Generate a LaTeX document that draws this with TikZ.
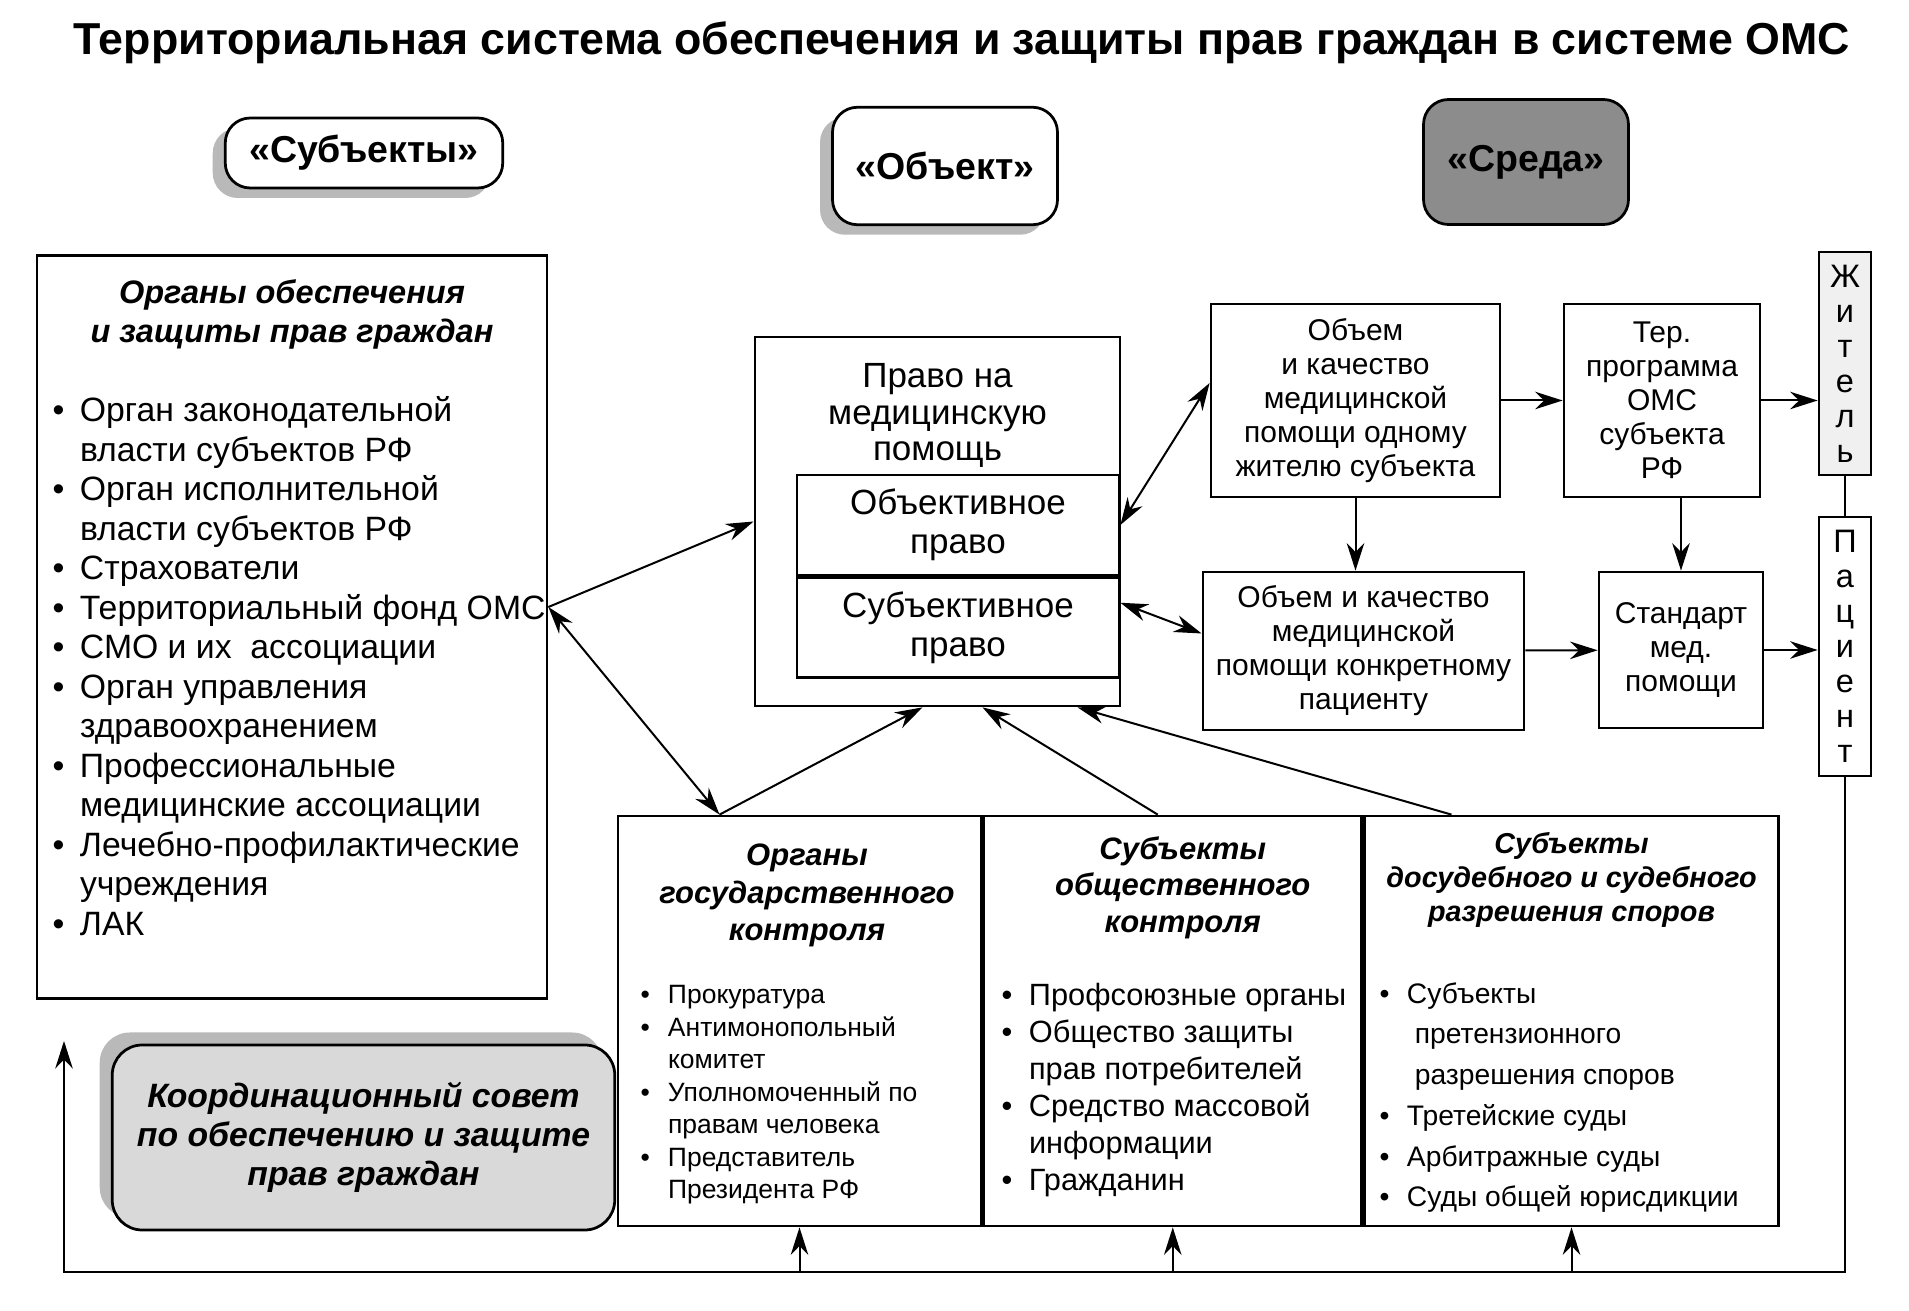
\documentclass[tikz,border=0pt]{standalone}
\usepackage{fontspec}
\setmainfont{Liberation Sans}
\usetikzlibrary{arrows.meta,positioning,shadows}

\newcommand{\itm}{\makebox[11pt][l]{\textbullet}}
\newcommand{\ind}{\hspace*{11pt}}
\newcommand{\fsz}[2]{\fontsize{#1}{#2}\selectfont}

\begin{document}
\begin{tikzpicture}[
  x=0.4pt, y=-0.4pt,
  box/.style={rectangle, draw, line width=1.1pt, inner sep=0pt, align=center},
  tag/.style={box, rounded corners=10pt, fill=white, font=\bfseries\fsz{15}{18}},
  rbox/.style={box, font=\fsz{12}{13.6}},
  vbox/.style={box, font=\fsz{13}{14}, minimum width=20.8pt},
  head/.style={inner sep=0pt, align=center, font=\bfseries\itshape\fsz{13}{15.6}},
  bullets/.style={inner sep=0pt, align=left, anchor=north west},
  shade/.style={drop shadow={shadow xshift=-5pt, shadow yshift=-4pt, fill=gray!55, opacity=1}},
  arr/.style={-{Stealth[length=11pt,width=7pt]}, line width=0.8pt},
  darr/.style={{Stealth[length=11pt,width=7pt]}-{Stealth[length=11pt,width=7pt]}, line width=0.8pt}
]
\useasboundingbox (0,0) rectangle (1909,1311);

% title
\node[font=\bfseries\fsz{17.9}{20}] (title) at (962,43) {Территориальная система обеспечения и защиты прав граждан в системе ОМС};

% tags
\node[tag, shade, minimum width=111pt, minimum height=28pt] (subj) at (364,153) {«Субъекты»};
\node[tag, shade, minimum width=90pt, minimum height=47pt] (obj) at (945,166) {«Объект»};
\node[tag, fill=black!45, minimum width=82pt, minimum height=50pt] (sreda) at (1526,162) {«Среда»};

% subjects of protection
\node[box, minimum width=204pt, minimum height=297pt] (organy) at (292,627) {};
\node[head, below=10pt of organy.north] (organyhead) {Органы обеспечения\\и защиты прав граждан};
\node[bullets, font=\fsz{13.5}{15.8}] (organylist) at (52,396) {%
\itm Орган законодательной\\ \ind власти субъектов РФ\\
\itm Орган исполнительной\\ \ind власти субъектов РФ\\
\itm Страхователи\\
\itm Территориальный фонд ОМС\\
\itm СМО и их\ \ ассоциации\\
\itm Орган управления\\ \ind здравоохранением\\
\itm Профессиональные\\ \ind медицинские ассоциации\\
\itm Лечебно-профилактические\\ \ind учреждения\\
\itm ЛАК};

% object
\node[box, minimum width=146pt, minimum height=147.6pt] (pravo) at (937.5,521.5) {};
\node[inner sep=0pt, align=center, font=\fsz{14}{14.6}, below=11pt of pravo.north] (pravohead) {Право на\\медицинскую\\помощь};
\node[box, font=\fsz{14}{15.6}, minimum width=128.8pt, minimum height=40pt] (objright) at (958,525) {Объективное\\право};
\node[box, font=\fsz{14}{15.6}, minimum width=128.8pt, minimum height=40pt, below=0pt of objright] (subjright) {Субъективное\\право};

% environment
\node[rbox, minimum width=115.6pt, minimum height=77.2pt] (perone) at (1355.5,400.5) {Объем\\и качество\\медицинской\\помощи одному\\жителю субъекта};
\node[rbox, minimum width=78.4pt, minimum height=77.2pt] (terprog) at (1662,400.5) {Тер.\\программа\\ОМС\\субъекта\\РФ};
\node[rbox, minimum width=128.4pt, minimum height=63.2pt] (perpatient) at (1363.5,651) {Объем и качество\\медицинской\\помощи конкретному\\пациенту};
\node[rbox, minimum width=65.6pt, minimum height=62.4pt] (standard) at (1681,650) {Стандарт\\мед.\\помощи};
\node[vbox, fill=gray!12, minimum height=89.2pt] (zhitel) at (1845,363.5) {Ж\\и\\т\\е\\л\\ь};
\node[vbox, minimum height=103.6pt] (patient) at (1845,646.5) {П\\а\\ц\\и\\е\\н\\т};

% control
\node[box, minimum width=145.2pt, minimum height=164pt] (gov) at (799.5,1021) {};
\node[box, minimum width=151.2pt, minimum height=164pt, right=0pt of gov] (pub) {};
\node[box, minimum width=165.6pt, minimum height=164pt, right=0pt of pub] (court) {};
\node[head, font=\bfseries\itshape\fsz{12.4}{15}, below=11.5pt of gov.north, xshift=3pt] (govhead) {Органы\\государственного\\контроля};
\node[head, font=\bfseries\itshape\fsz{12.4}{14.6}, below=8.5pt of pub.north, xshift=4pt] (pubhead) {Субъекты\\общественного\\контроля};
\node[head, font=\bfseries\itshape\fsz{11.5}{13.6}, below=7pt of court.north] (courthead) {Субъекты\\досудебного и судебного\\разрешения споров};
\node[bullets, font=\fsz{10.6}{13}] (govlist) at (640,985) {%
\itm Прокуратура\\
\itm Антимонопольный\\ \ind комитет\\
\itm Уполномоченный по\\ \ind правам человека\\
\itm Представитель\\ \ind Президента РФ};
\node[bullets, font=\fsz{12.3}{14.8}] (publist) at (1001,983) {%
\itm Профсоюзные органы\\
\itm Общество защиты\\ \ind прав потребителей\\
\itm Средство массовой\\ \ind информации\\
\itm Гражданин};
\node[bullets, font=\fsz{11.3}{16.3}] (courtlist) at (1379,982) {%
\itm Субъекты\\ \ind\ претензионного\\ \ind\ разрешения споров\\
\itm Третейские суды\\
\itm Арбитражные суды\\
\itm Суды общей юрисдикции};

% council
\node[box, rounded corners=12pt, fill=gray!30, minimum width=201pt, minimum height=74pt,
  font=\bfseries\itshape\fsz{13.5}{15.6},
  drop shadow={shadow xshift=-5pt, shadow yshift=5pt, fill=gray!55, opacity=1}] (coord) at (363.5,1137.5)
  {Координационный совет\\по обеспечению и защите\\прав граждан};

% links
\draw[arr] ([yshift=8pt]organy.east) -- (pravo.west);
\draw[darr] ([yshift=8pt]organy.east) -- ([xshift=-32pt]gov.north);
\draw[arr] ([xshift=-32pt]gov.north) -- ([xshift=-6pt]pravo.south);
\draw[arr] ([xshift=-6pt]pub.north) -- ([xshift=18pt]pravo.south);
\draw[arr] ([xshift=-48pt]court.north) -- ([xshift=56pt]pravo.south);
\draw[darr] (objright.east) -- ([yshift=7pt]perone.west);
\draw[darr] ([yshift=10pt]subjright.east) -- ([yshift=7pt]perpatient.west);
\draw[arr] (perone) -- (terprog);
\draw[arr] (terprog.east) -- (terprog.east -| zhitel.west);
\draw[arr] (perone.south) -- (perone.south |- perpatient.north);
\draw[arr] (terprog.south -| standard.north) -- (standard.north);
\draw[arr] (perpatient) -- (standard);
\draw[arr] (standard.east) -- (standard.east -| patient.west);
\draw[line width=0.8pt] (zhitel) -- (patient);

% feedback loop
\coordinate (loopR) at (1845,1272);
\coordinate (loopL) at (64,1272);
\coordinate (loopT) at (64,1041);
\draw[arr] (patient.south) -- (loopR) -- (loopL) -- (loopT);
\foreach \n in {gov,pub,court}
  \draw[arr] (\n.south |- loopL) -- (\n.south);
\end{tikzpicture}
\end{document}
